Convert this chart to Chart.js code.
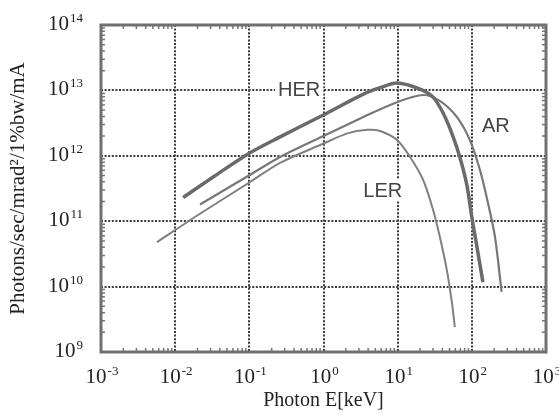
<!DOCTYPE html>
<html>
<head>
<meta charset="utf-8">
<script src="https://cdn.jsdelivr.net/npm/chart.js@4/dist/chart.umd.min.js"></script>
<style>
  html, body { margin: 0; padding: 0; background: #fff; }
  canvas { display: block; }
</style>
</head>
<body>
<canvas id="spectrum" width="559" height="415"></canvas>
<script>
// photon energy [keV] and flux [photons/sec/mrad^2/1%bw/mA] for each ring
const herEnergy = [0.0128, 0.034, 0.096, 0.26, 0.95, 3.4, 5.8, 9.8, 20, 30, 41, 56, 71, 86, 100, 117, 141];
const herFlux   = [2.3e11, 4.9e11, 1.07e12, 1.95e12, 4.1e12, 8.7e12, 1.1e13, 1.3e13, 1.05e13, 7.9e12, 4.5e12, 1.95e12, 8.5e11, 3.5e11, 1.15e11, 4.1e10, 1.17e10];

const arEnergy = [0.0216, 0.096, 0.26, 0.95, 3.4, 9.8, 22, 37, 63, 94, 129, 165, 205, 252];
const arFlux   = [1.8e11, 4.9e11, 9.6e11, 1.95e12, 3.9e12, 6.6e12, 8.5e12, 6.9e12, 3.9e12, 1.74e12, 6.0e11, 1.9e11, 5.8e10, 8.3e9];

const lerEnergy = [0.0057, 0.0216, 0.096, 0.26, 0.95, 2.1, 3.9, 5.8, 9.8, 14.7, 22, 30, 37, 46, 54, 59];
const lerFlux   = [4.8e10, 1.3e11, 3.8e11, 7.8e11, 1.5e12, 2.2e12, 2.5e12, 2.4e12, 1.75e12, 9.6e11, 4.3e11, 1.5e11, 5.8e10, 1.8e10, 5.6e9, 2.4e9];

// decade ticks on both axes
const xTickValues = [1e-3, 1e-2, 1e-1, 1, 10, 100, 1000];
const xTickExps   = ['-3', '-2', '-1', '0', '1', '2', '3'];
const yTickValues = [1e9, 1e10, 1e11, 1e12, 1e13, 1e14];
const yTickExps   = ['9', '10', '11', '12', '13', '14'];

// curve names and where they sit (energy, flux)
const curveNames = ['HER', 'AR', 'LER'];
const nameEnergy = [0.47, 211, 6.3];
const nameFlux   = [1.05e13, 2.9e12, 3.0e11];

const serif = '"Liberation Serif", "Times New Roman", serif';
const sans = '"Liberation Sans", Arial, Helvetica, sans-serif';

function toPoints(xs, ys) {
  return xs.map((x, i) => ({ x: x, y: ys[i] }));
}

// "10" with a raised exponent
function drawPower(ctx, exp, x, baseline, align) {
  ctx.font = '21px ' + serif;
  const wBase = ctx.measureText('10').width;
  ctx.font = '13px ' + serif;
  const wExp = ctx.measureText(exp).width;
  const left = align === 'right' ? x - wBase - wExp - 1 : x - (wBase + wExp + 1) / 2;
  ctx.textAlign = 'left';
  ctx.textBaseline = 'alphabetic';
  ctx.font = '21px ' + serif;
  ctx.fillText('10', left, baseline);
  ctx.font = '13px ' + serif;
  ctx.fillText(exp, left + wBase + 1, baseline - 8);
}

const decorations = {
  id: 'decorations',
  beforeDatasetsDraw(chart) {
    const ctx = chart.ctx;
    const xs = chart.scales.x, ys = chart.scales.y;
    ctx.save();
    ctx.font = '20px ' + sans;
    ctx.textAlign = 'center';
    ctx.textBaseline = 'middle';
    curveNames.forEach((name, i) => {
      const px = xs.getPixelForValue(nameEnergy[i]);
      const py = ys.getPixelForValue(nameFlux[i]);
      const w = ctx.measureText(name).width;
      ctx.fillStyle = '#fff';
      ctx.fillRect(px - w / 2 - 3, py - 11, w + 6, 22);
      ctx.fillStyle = '#444';
      ctx.fillText(name, px, py + 1);
    });
    ctx.restore();
  },
  afterDatasetsDraw(chart) {
    const ctx = chart.ctx;
    const a = chart.chartArea;
    const xs = chart.scales.x, ys = chart.scales.y;
    ctx.save();

    // inward minor ticks on all four sides
    ctx.strokeStyle = '#777';
    ctx.lineWidth = 1.5;
    ctx.beginPath();
    for (let n = -3; n < 3; n++) {
      for (let k = 2; k <= 9; k++) {
        const px = xs.getPixelForValue(k * Math.pow(10, n));
        ctx.moveTo(px, a.bottom); ctx.lineTo(px, a.bottom - 4);
        ctx.moveTo(px, a.top); ctx.lineTo(px, a.top + 4);
      }
    }
    for (let n = 9; n < 14; n++) {
      for (let k = 2; k <= 9; k++) {
        const py = ys.getPixelForValue(k * Math.pow(10, n));
        ctx.moveTo(a.left, py); ctx.lineTo(a.left + 4, py);
        ctx.moveTo(a.right, py); ctx.lineTo(a.right - 4, py);
      }
    }
    ctx.stroke();

    // plot frame
    ctx.strokeStyle = '#707070';
    ctx.lineWidth = 3;
    ctx.strokeRect(a.left, a.top, a.right - a.left, a.bottom - a.top);

    // tick labels
    ctx.fillStyle = '#222';
    xTickValues.forEach((v, i) => {
      drawPower(ctx, xTickExps[i], xs.getPixelForValue(v) + 1, 383, 'center');
    });
    yTickValues.forEach((v, i) => {
      drawPower(ctx, yTickExps[i], 83, ys.getPixelForValue(v) + 5, 'right');
    });
    ctx.restore();
  }
};

const lineStyle = { showLine: true, pointRadius: 0, tension: 0.3 };

new Chart(document.getElementById('spectrum'), {
  type: 'scatter',
  data: {
    datasets: [
      Object.assign({ label: 'HER', data: toPoints(herEnergy, herFlux), borderColor: '#6a6a6a', borderWidth: 3.5 }, lineStyle),
      Object.assign({ label: 'AR', data: toPoints(arEnergy, arFlux), borderColor: '#777', borderWidth: 2.2 }, lineStyle),
      Object.assign({ label: 'LER', data: toPoints(lerEnergy, lerFlux), borderColor: '#808080', borderWidth: 2 }, lineStyle)
    ]
  },
  options: {
    responsive: false,
    animation: false,
    devicePixelRatio: 1,
    layout: { padding: { left: 0, right: 13, top: 25, bottom: 0 } },
    plugins: { legend: { display: false }, tooltip: { enabled: false } },
    scales: {
      x: {
        type: 'logarithmic',
        min: 1e-3,
        max: 1e3,
        afterBuildTicks: (scale) => { scale.ticks = xTickValues.map(v => ({ value: v })); },
        afterFit: (scale) => { scale.height = 63; },
        ticks: { display: false },
        grid: { color: '#3a3a3a', lineWidth: 2, drawTicks: false },
        border: { display: false, dash: [2, 1.6] },
        title: {
          display: true,
          text: 'Photon E[keV]',
          color: '#222',
          font: { family: serif, size: 20 },
          padding: { top: 0, bottom: 2 }
        }
      },
      y: {
        type: 'logarithmic',
        min: 1e9,
        max: 1e14,
        afterBuildTicks: (scale) => { scale.ticks = yTickValues.map(v => ({ value: v })); },
        afterFit: (scale) => { scale.width = 101; },
        ticks: { display: false },
        grid: { color: '#3a3a3a', lineWidth: 2, drawTicks: false },
        border: { display: false, dash: [2, 1.6] },
        title: {
          display: true,
          text: 'Photons/sec/mrad²/1%bw/mA',
          color: '#222',
          font: { family: serif, size: 21 },
          padding: { top: 6, bottom: 0 }
        }
      }
    }
  },
  plugins: [decorations]
});
</script>
</body>
</html>
